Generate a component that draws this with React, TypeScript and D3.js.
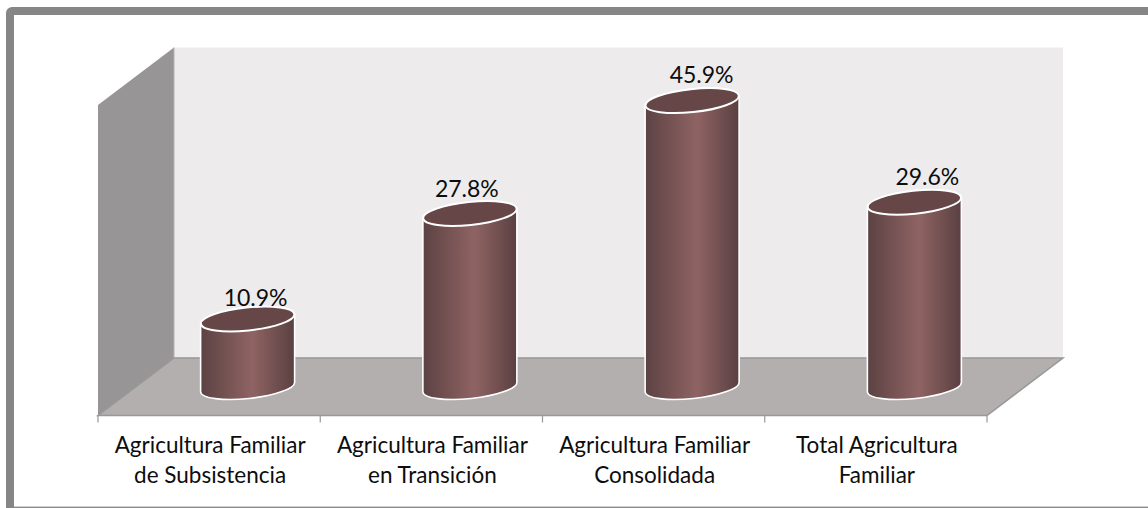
import React, { useRef, useEffect } from "react";
import * as d3 from "d3";

const categories = [
  ["Agricultura Familiar", "de Subsistencia"],
  ["Agricultura Familiar", "en Transición"],
  ["Agricultura Familiar", "Consolidada"],
  ["Total Agricultura", "Familiar"],
];
const values = [10.9, 27.8, 45.9, 29.6];
const labels = ["10.9%", "27.8%", "45.9%", "29.6%"];

const W = 1148;
const H = 508;

// 3d box corners, front plane vs back plane
const frontL = 98;
const frontR = 987;
const depthX = 76;
const depthY = 57.5;
const floorY = 415.5;
const topY = 105;

// data labels sit a bit off the cylinder centre in the original
const labelDx = [8, -3, 9.5, 13];
const labelDy = [-13, -16.5, -17.5, -17.5];

export default function App() {
  const ref = useRef<SVGSVGElement>(null);

  useEffect(() => {
    const svg = d3.select(ref.current);
    svg.selectAll("*").remove();

    const defs = svg.append("defs");
    const grad = defs
      .append("linearGradient")
      .attr("id", "cyl")
      .attr("x1", 0)
      .attr("x2", 1)
      .attr("y1", 0)
      .attr("y2", 0);
    grad.append("stop").attr("offset", "0%").attr("stop-color", "#5c4243");
    grad.append("stop").attr("offset", "55%").attr("stop-color", "#8f6363");
    grad.append("stop").attr("offset", "100%").attr("stop-color", "#5a4041");

    // frame, right and bottom run off the page
    svg
      .append("rect")
      .attr("x", 10)
      .attr("y", 11)
      .attr("width", W + 40)
      .attr("height", H + 40)
      .attr("rx", 2)
      .attr("fill", "#fff")
      .attr("stroke", "#868686")
      .attr("stroke-width", 8);
    svg
      .append("rect")
      .attr("x", 14)
      .attr("y", 506)
      .attr("width", W)
      .attr("height", 1)
      .attr("fill", "#cfcfcf");
    svg
      .append("rect")
      .attr("x", 14)
      .attr("y", 507)
      .attr("width", W)
      .attr("height", 1)
      .attr("fill", "#8c8c8c");

    const line = d3.line();

    // back wall
    svg
      .append("path")
      .attr(
        "d",
        line([
          [frontL + depthX, topY - depthY],
          [frontR + depthX, topY - depthY],
          [frontR + depthX, floorY - depthY],
          [frontL + depthX, floorY - depthY],
        ]) + "Z"
      )
      .attr("fill", "#edebec");

    // side wall
    svg
      .append("path")
      .attr(
        "d",
        line([
          [frontL, topY],
          [frontL + depthX, topY - depthY],
          [frontL + depthX, floorY - depthY],
          [frontL, floorY],
        ]) + "Z"
      )
      .attr("fill", "#979596");
    svg
      .append("line")
      .attr("x1", frontL + depthX)
      .attr("x2", frontL + depthX)
      .attr("y1", topY - depthY)
      .attr("y2", floorY - depthY)
      .attr("stroke", "#b4b2b3");

    // floor
    svg
      .append("path")
      .attr(
        "d",
        line([
          [frontL, floorY],
          [frontL + depthX, floorY - depthY],
          [frontR + depthX, floorY - depthY],
          [frontR, floorY],
        ]) + "Z"
      )
      .attr("fill", "#b2afae")
      .attr("stroke", "#989898")
      .attr("stroke-width", 1.5);

    // axis
    const x = d3
      .scaleBand<number>()
      .domain(d3.range(categories.length))
      .range([frontL, frontR]);
    const y = d3.scaleLinear().domain([0, 50]).range([387, 75]);

    const ticks = d3.range(categories.length + 1).map((i) => frontL + i * x.step());
    svg
      .append("g")
      .selectAll("line")
      .data(ticks)
      .join("line")
      .attr("x1", (d) => d)
      .attr("x2", (d) => d)
      .attr("y1", floorY)
      .attr("y2", floorY + 7)
      .attr("stroke", "#989898")
      .attr("stroke-width", 1.2);

    svg
      .append("g")
      .selectAll("text")
      .data(categories)
      .join("text")
      .attr("text-anchor", "middle")
      .attr("font-family", "Lato, 'Open Sans', sans-serif")
      .attr("font-size", 22.5)
      .attr("fill", "#0d0d0d")
      .each(function (d, i) {
        const t = d3.select(this);
        d.forEach((s, j) => {
          t.append("tspan")
            .attr("x", x(i)! + x.bandwidth() / 2 + 1)
            .attr("y", 452.5 + j * 30)
            .text(s);
        });
      });

    // cylinders
    const rx = 47;
    const ry = 11.5;
    const tilt = -6;
    const lean = 5; // vertical offset of the ellipse ends from the tilt
    const cx = (i: number) => x(i)! + x.bandwidth() / 2 + 38.5;

    const g = svg.append("g").selectAll("g").data(values).join("g");
    g.append("path")
      .attr("d", (d, i) => {
        const c = cx(i);
        const top = y(d);
        const base = y(0);
        return (
          `M${c - rx},${top + lean} L${c - rx},${base + lean} ` +
          `A${rx},${ry} ${tilt} 0 0 ${c + rx},${base - lean} ` +
          `L${c + rx},${top - lean} ` +
          `A${rx},${ry} ${tilt} 0 0 ${c - rx},${top + lean} Z`
        );
      })
      .attr("fill", "url(#cyl)")
      .attr("stroke", "#fff")
      .attr("stroke-width", 1.6);
    g.append("ellipse")
      .attr("rx", rx)
      .attr("ry", ry)
      .attr("transform", (d, i) => `translate(${cx(i)},${y(d)}) rotate(${tilt})`)
      .attr("fill", "#664647")
      .attr("stroke", "#fff")
      .attr("stroke-width", 2);

    g.append("text")
      .attr("x", (d, i) => cx(i) + labelDx[i])
      .attr("y", (d, i) => y(d) + labelDy[i])
      .attr("text-anchor", "middle")
      .attr("font-family", "Lato, 'Open Sans', sans-serif")
      .attr("font-size", 23)
      .attr("fill", "#0d0d0d")
      .text((d, i) => labels[i]);
  }, []);

  return (
    <svg
      ref={ref}
      width={W}
      height={H}
      style={{ position: "absolute", left: 0, top: 0, display: "block" }}
    />
  );
}
